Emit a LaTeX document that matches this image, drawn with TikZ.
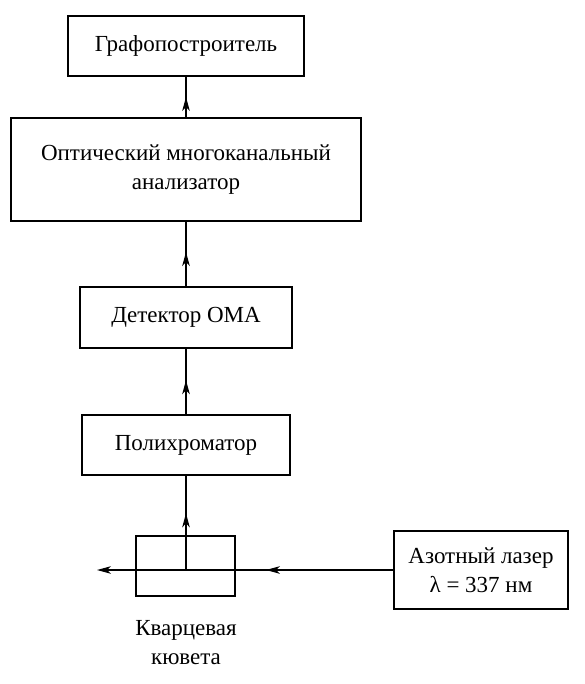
\documentclass[tikz,border=0pt]{standalone}
\usepackage{fontspec}
\setmainfont{Liberation Serif}
\usetikzlibrary{arrows.meta,decorations.markings}
\tikzset{
  blk/.style={draw, line width=0.6pt, inner sep=0pt, align=center, font=\fontsize{11.5}{14.5}\selectfont},
  lbl/.style={inner sep=0pt, align=center, font=\fontsize{11.5}{14.5}\selectfont},
  tipstyle/.style={-{Stealth[length=7pt,width=3.8pt,inset=2pt]}},
  conn/.style={line width=0.6pt},
  midarrow/.style={postaction={decorate}, decoration={markings, mark=at position #1 with {\arrow{Stealth[length=7pt,width=3.8pt,inset=2pt]}}}}
}
\begin{document}
\begin{tikzpicture}[x=0.5pt,y=-0.5pt]
\useasboundingbox (0,0) rectangle (584,684);
\node[blk, minimum width=118pt, minimum height=30pt] (plot) at (186,46) {Графопостроитель};
\node[blk, minimum width=175pt, minimum height=51.5pt] (oma) at (186,169.5) {Оптический многоканальный\\анализатор};
\node[blk, minimum width=106pt, minimum height=30.5pt] (det) at (186,317.5) {Детектор ОМА};
\node[blk, minimum width=104pt, minimum height=30pt] (poly) at (186,445) {Полихроматор};
\node[draw, line width=0.6pt, minimum width=49.5pt, minimum height=30pt, inner sep=0pt] (cuv) at (185.5,566) {};
\node[blk, minimum width=87pt, minimum height=39pt] (laser) at (481,570) {Азотный лазер\\λ = 337 нм};
\node[lbl, anchor=north] (cuvlbl) at (186,620) {Кварцевая\\кювета};
\coordinate (beamend) at (97,570);
\coordinate (cuvc) at (186,570);
\draw[conn, midarrow=0.5] (oma.north) -- (plot.south);
\draw[conn, midarrow=0.53] (det.north) -- (oma.south);
\draw[conn, midarrow=0.52] (poly.north) -- (det.south);
\draw[conn, midarrow=0.6] (cuvc) -- (poly.south);
\draw[conn, tipstyle, midarrow=0.43] (laser.west) -- (beamend);
\end{tikzpicture}
\end{document}
